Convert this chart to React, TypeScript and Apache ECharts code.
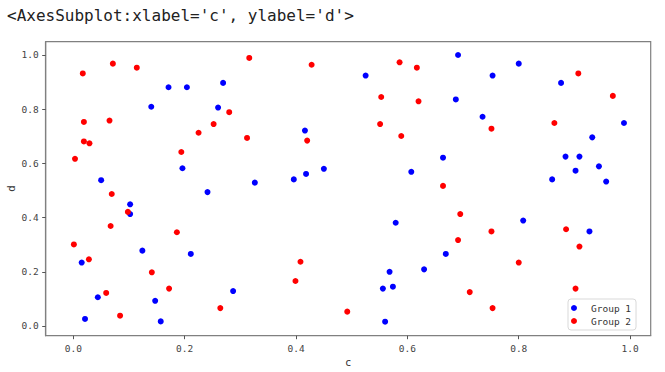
import React, { useEffect, useRef } from "react";
import * as echarts from "echarts";

const titleText = "<AxesSubplot:xlabel='c', ylabel='d'>";
const xName = "c";
const yName = "d";
const tickValues = [0, 0.2, 0.4, 0.6, 0.8, 1.0];
const seriesNames = ["Group 1", "Group 2"];

const group1X = [
  0.171, 0.204, 0.269, 0.14, 0.26, 0.196, 0.05, 0.241, 0.102, 0.102, 0.124, 0.211, 0.015, 0.287, 0.044, 0.147, 0.021,
  0.157, 0.525, 0.416, 0.664, 0.326, 0.396, 0.418, 0.45, 0.607, 0.579, 0.669, 0.63, 0.568, 0.556, 0.574, 0.56, 0.691,
  0.8, 0.753, 0.876, 0.687, 0.735, 0.989, 0.932, 0.884, 0.909, 0.902, 0.944, 0.86, 0.957, 0.808, 0.927,
];
const group1Y = [
  0.881, 0.881, 0.897, 0.809, 0.806, 0.582, 0.538, 0.494, 0.449, 0.413, 0.278, 0.266, 0.234, 0.129, 0.106, 0.093, 0.026,
  0.017, 0.924, 0.721, 0.621, 0.529, 0.541, 0.561, 0.58, 0.569, 0.381, 0.266, 0.209, 0.2, 0.138, 0.145, 0.016, 1.0,
  0.968, 0.924, 0.897, 0.836, 0.772, 0.749, 0.696, 0.625, 0.625, 0.573, 0.589, 0.541, 0.533, 0.389, 0.349,
];
const group2X = [
  0.017, 0.071, 0.114, 0.316, 0.28, 0.252, 0.225, 0.312, 0.019, 0.065, 0.019, 0.029, 0.003, 0.194, 0.069, 0.098, 0.067,
  0.186, 0.001, 0.028, 0.141, 0.172, 0.059, 0.264, 0.084, 0.428, 0.586, 0.617, 0.553, 0.62, 0.551, 0.589, 0.42, 0.664,
  0.408, 0.399, 0.492, 0.907, 0.969, 0.751, 0.864, 0.695, 0.885, 0.751, 0.691, 0.909, 0.8, 0.712, 0.902, 0.753,
];
const group2Y = [
  0.932, 0.968, 0.953, 0.989, 0.789, 0.745, 0.713, 0.694, 0.753, 0.758, 0.681, 0.674, 0.617, 0.642, 0.487, 0.421, 0.369,
  0.346, 0.301, 0.246, 0.198, 0.138, 0.122, 0.066, 0.038, 0.964, 0.973, 0.953, 0.845, 0.829, 0.745, 0.701, 0.684, 0.517,
  0.237, 0.166, 0.053, 0.932, 0.849, 0.728, 0.749, 0.413, 0.357, 0.349, 0.317, 0.293, 0.234, 0.125, 0.138, 0.066,
];

const pairs = (xs: number[], ys: number[]) => xs.map((x, i) => [x, ys[i]]);

export default function App() {
  const ref = useRef<HTMLDivElement>(null);
  useEffect(() => {
    if (!ref.current) return;
    const chart = echarts.init(ref.current, null, { renderer: "svg" });
    const tickFont = "'DejaVu Sans Mono', monospace";
    const axisCommon = {
      type: "value" as const,
      splitLine: { show: false },
      axisLine: { show: true, onZero: false, lineStyle: { color: "#808080", width: 1.2 } },
      axisTick: { show: true, length: 3.5, customValues: tickValues, lineStyle: { color: "#555", width: 1 } },
      axisLabel: {
        customValues: tickValues,
        formatter: (v: number) => v.toFixed(1),
        fontSize: 9.5,
        color: "#444",
        fontFamily: tickFont,
      },
      nameLocation: "middle" as const,
      nameMoveOverlap: false,
      nameTextStyle: { fontSize: 10, color: "#333", fontFamily: "'DejaVu Sans', sans-serif" },
    };
    chart.setOption({
      animation: false,
      backgroundColor: "#fff",
      graphic: [
        {
          type: "text",
          left: 7,
          top: 7,
          style: {
            text: titleText,
            fontSize: 16,
            fontFamily: "'DejaVu Sans Mono', 'Liberation Mono', monospace",
            fill: "#222",
          },
        },
      ],
      grid: {
        left: 45.7,
        top: 41.7,
        right: 14.3,
        bottom: 36.3,
        containLabel: false,
        outerBoundsMode: "none",
        show: true,
        borderColor: "#808080",
        borderWidth: 1.2,
        backgroundColor: "transparent",
      },
      xAxis: {
        ...axisCommon,
        min: -0.0496,
        max: 1.037,
        name: xName,
        nameGap: 22,
        axisLabel: { ...axisCommon.axisLabel, margin: 8 },
      },
      yAxis: {
        ...axisCommon,
        min: -0.0358,
        max: 1.049,
        name: yName,
        nameGap: 29,
        axisLabel: { ...axisCommon.axisLabel, margin: 7 },
      },
      legend: {
        left: 568,
        top: 299,
        orient: "vertical",
        icon: "circle",
        itemWidth: 24,
        itemHeight: 6,
        itemGap: 1,
        padding: [3, 5, 3, 3],
        backgroundColor: "#fff",
        borderColor: "#d9d9d9",
        borderWidth: 1,
        borderRadius: 3,
        textStyle: { fontSize: 9.5, lineHeight: 12, color: "#333", fontFamily: tickFont },
        data: seriesNames,
      },
      series: [
        {
          name: seriesNames[0],
          type: "scatter",
          symbolSize: 6,
          itemStyle: { color: "#0000ff", opacity: 1 },
          data: pairs(group1X, group1Y),
        },
        {
          name: seriesNames[1],
          type: "scatter",
          symbolSize: 6,
          itemStyle: { color: "#ff0000", opacity: 1 },
          data: pairs(group2X, group2Y),
        },
      ],
    });
    return () => chart.dispose();
  }, []);
  return (
    <div
      ref={ref}
      style={{ position: "fixed", left: 0, top: 0, width: 665, height: 372, background: "#fff" }}
    />
  );
}
